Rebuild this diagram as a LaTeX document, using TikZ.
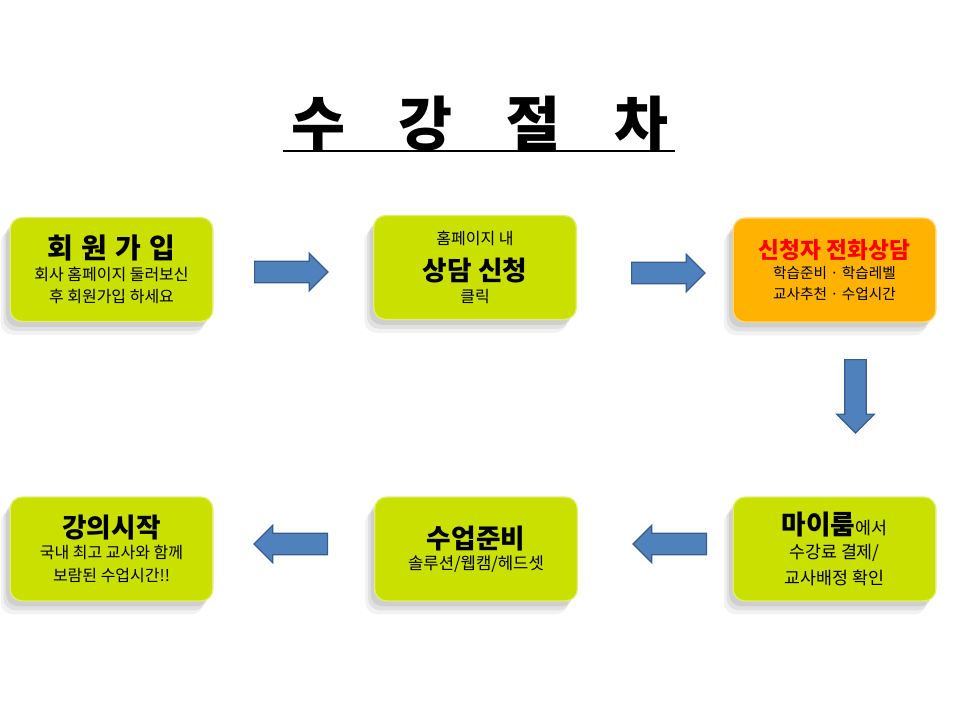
\documentclass[tikz,border=0pt]{standalone}
\usepackage{fontspec}
\setmainfont{Noto Sans CJK KR}
\usepackage{tikz}
\usetikzlibrary{shapes.arrows,shadows,positioning}
\usepackage{xcolor}
\definecolor{limebox}{HTML}{C9E000}
\definecolor{orangebox}{HTML}{FFB300}
\definecolor{arrowblue}{HTML}{4F81BD}
\definecolor{arrowedge}{HTML}{385D8A}

\begin{document}
\begin{tikzpicture}[x=0.75pt,y=-0.75pt,
    stepbox/.style={rectangle,rounded corners=9pt,minimum width=152pt,minimum height=78pt,
      align=center,inner sep=2pt,fill=limebox,draw=limebox!55!white,line width=1pt,
      font=\fontsize{12}{17}\selectfont,
      drop shadow={shadow xshift=-7pt,shadow yshift=-10pt,opacity=.05,fill=black},
      drop shadow={shadow xshift=-5pt,shadow yshift=-7pt,opacity=.07,fill=black},
      drop shadow={shadow xshift=-3pt,shadow yshift=-4pt,opacity=.08,fill=black}},
    callbox/.style={stepbox,fill=orangebox,draw=orangebox!55!white,font=\fontsize{11}{16}\selectfont},
    blockarrow/.style={single arrow,fill=arrowblue,draw=arrowedge,line width=0.9pt,anchor=tail,
      minimum height=55pt,inner xsep=0pt,inner ysep=7.6pt,single arrow head extend=6pt}]
  \useasboundingbox (0,0) rectangle (960,720);

  % title
  \node[anchor=base,font=\fontsize{44}{50}\selectfont\bfseries,inner sep=0pt] (title) at (480,146)
    {수\hspace{0.92em}강\hspace{0.92em}절\hspace{0.92em}차};
  \draw[line width=2.2pt] (283,151) -- (675,151);

  % first row
  \node[stepbox] (join) at (111.5,269.5)
    {{\fontsize{21}{24}\selectfont\bfseries 회\hspace{0.3em}원\hspace{0.3em}가\hspace{0.3em}입}\\[-1pt]
     회사 홈페이지 둘러보신\\후 회원가입 하세요};
  \node[stepbox] (apply) at (475,267.5)
    {홈페이지 내\\[8pt]
     {\fontsize{20}{22}\selectfont\bfseries 상담 신청}\\[0pt]
     클릭};
  \node[callbox] (call) at (834.5,270)
    {{\fontsize{17}{20}\selectfont\bfseries\color{red} 신청자 전화상담}\\[-1pt]
     학습준비 · 학습레벨\\교사추천 · 수업시간};

  % second row
  \node[stepbox] (start) at (111.5,549)
    {{\fontsize{20}{24}\selectfont\bfseries 강의시작}\\[-1pt]
     국내 최고 교사와 함께\\보람된 수업시간!!};
  \node[stepbox] (ready) at (476,549)
    {{\fontsize{20}{24}\selectfont\bfseries 수업준비}\\[-1pt]
     {\fontsize{12.5}{17}\selectfont 솔루션/웹캠/헤드셋}};
  \node[stepbox,font=\fontsize{13}{19}\selectfont] (myroom) at (834.5,549)
    {{\fontsize{20}{24}\selectfont\bfseries 마이룸}에서\\[-1pt]
     수강료 결제/\\교사배정 확인};

  % arrows
  \node[blockarrow] (a1) at (254,272) {};
  \node[blockarrow] (a2) at (631,273) {};
  \node[blockarrow,rotate=270] (a3) at (855.5,359) {};
  \node[blockarrow,rotate=180] (a4) at (707,544) {};
  \node[blockarrow,rotate=180] (a5) at (328,544) {};
\end{tikzpicture}
\end{document}
